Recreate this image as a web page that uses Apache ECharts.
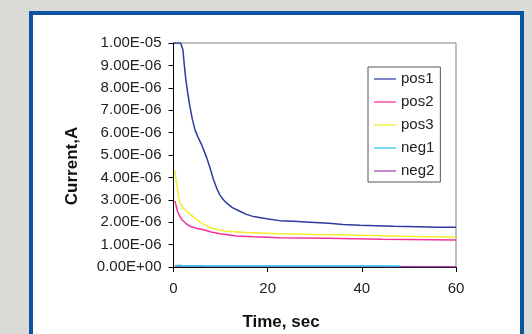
<!DOCTYPE html>
<html>
<head>
<meta charset="utf-8">
<script src="https://cdn.jsdelivr.net/npm/echarts@6/dist/echarts.min.js"></script>
<style>
html,body{margin:0;padding:0;background:#dcdad6;}
#c{width:532px;height:334px;}
</style>
</head>
<body>
<div id="c"></div>
<script>
// Data (current in units of 1e-6 A, time in seconds)
const pos1T = [0, 1.5, 2.0, 2.3, 2.6, 3.0, 3.5, 4.0, 4.6, 5.3, 6.0, 7.1, 7.8, 8.5, 9.2, 9.9, 10.6, 11.3, 12.5, 14.2, 15.5, 17.0, 19.8, 22.5, 25.5, 29, 33, 36, 39.6, 46.7, 52, 55.9, 60];
const pos1V = [10, 10, 9.7, 9.0, 8.4, 7.8, 7.15, 6.6, 6.1, 5.75, 5.45, 4.85, 4.4, 3.9, 3.5, 3.2, 3.0, 2.85, 2.65, 2.48, 2.35, 2.25, 2.15, 2.07, 2.04, 2.0, 1.95, 1.9, 1.86, 1.82, 1.8, 1.78, 1.77];
const pos2T = [0.3, 0.6, 0.85, 1.3, 1.8, 2.6, 3.5, 5.0, 6.4, 8.0, 9.9, 13.4, 17, 22.5, 32.4, 44.4, 60];
const pos2V = [2.95, 2.7, 2.48, 2.28, 2.11, 1.95, 1.82, 1.72, 1.66, 1.56, 1.48, 1.38, 1.35, 1.31, 1.28, 1.24, 1.21];
const pos3T = [0.3, 0.55, 0.85, 1.1, 1.4, 2.0, 2.8, 4.0, 5.0, 6.4, 7.8, 9.5, 11.3, 15.6, 22.5, 30, 39.6, 48.8, 60];
const pos3V = [4.33, 3.85, 3.45, 3.1, 2.85, 2.65, 2.48, 2.28, 2.1, 1.9, 1.75, 1.66, 1.6, 1.54, 1.48, 1.45, 1.42, 1.37, 1.33];
const neg1T = [0.3, 0.6, 1.2, 2, 10, 20, 30, 40, 48];
const neg1V = [0.06, 0.1, 0.08, 0.04, 0.04, 0.04, 0.04, 0.04, 0.04];
const neg2T = [0.3, 6, 6.5, 20, 40, 60];
const neg2V = [0.05, 0.05, 0.02, 0.02, 0.02, 0.01];
const seriesNames = ['pos1', 'pos2', 'pos3', 'neg1', 'neg2'];
const seriesColors = ['#2f3a9e', '#f0329a', '#f2ee2a', '#33c4f0', '#a04aa8'];
const legendColors = ['#7f86cc', '#f77ab8', '#f5f27a', '#7fd8f5', '#c08ac6'];
const xTicks = [0, 20, 40, 60];
const yMax = 1e-5, yStep = 1e-6;

function pairs(t, v) { return t.map((x, i) => [x, v[i] * 1e-6]); }
const allT = [pos1T, pos2T, pos3T, neg1T, neg2T];
const allV = [pos1V, pos2V, pos3V, neg1V, neg2V];

function fmtE(val) {
  let s = Number(val).toExponential(2);
  let [m, e] = s.split('e');
  let sign = e[0] === '-' ? '-' : '+';
  let n = Math.abs(parseInt(e, 10));
  return m + 'E' + sign + (n < 10 ? '0' + n : '' + n);
}

const chart = echarts.init(document.getElementById('c'), null, {renderer: 'canvas'});
const font = 'Liberation Sans, Arial, sans-serif';
chart.setOption({
  animation: false,
  backgroundColor: '#dcdad6',
  graphic: [
    {type: 'rect', z: -10, shape: {x: 31, y: 13, width: 491, height: 340},
     style: {fill: '#ffffff', stroke: '#0d54a0', lineWidth: 4}},
    {type: 'text', z: 10, x: 281, y: 322,
     style: {text: 'Time, sec', font: 'bold 17px ' + font, fill: '#111', textAlign: 'center', textVerticalAlign: 'middle'}},
    {type: 'text', z: 10, x: 72, y: 166, rotation: Math.PI / 2,
     style: {text: 'Current,A', font: 'bold 17px ' + font, fill: '#111', textAlign: 'center', textVerticalAlign: 'middle'}}
  ],
  grid: {left: 173.5, right: 76, top: 43, bottom: 67, show: true, borderColor: '#808080', borderWidth: 1, backgroundColor: '#ffffff'},
  legend: {
    orient: 'vertical', left: 368, top: 67,
    padding: [4, 6, 3, 6], itemGap: 7, itemWidth: 22, itemHeight: 2,
    icon: 'rect',
    borderColor: '#555', borderWidth: 1, backgroundColor: '#fff',
    textStyle: {fontFamily: font, fontSize: 15, color: '#222', lineHeight: 16},
    data: seriesNames.map((n, i) => ({name: n, itemStyle: {color: legendColors[i]}}))
  },
  xAxis: {
    type: 'value', min: 0, max: 60, interval: 20,
    axisLine: {show: true, lineStyle: {color: '#000', width: 1}},
    axisTick: {show: true, length: 5, lineStyle: {color: '#000'}},
    splitLine: {show: false},
    axisLabel: {fontFamily: font, fontSize: 15, color: '#222', margin: 14,
      formatter: v => xTicks.includes(v) ? String(v) : ''}
  },
  yAxis: {
    type: 'value', min: 0, max: yMax, interval: yStep,
    axisLine: {show: true, lineStyle: {color: '#000', width: 1}},
    axisTick: {show: true, length: 5, lineStyle: {color: '#000'}},
    splitLine: {show: false},
    axisLabel: {fontFamily: font, fontSize: 15, color: '#222', margin: 12, formatter: fmtE}
  },
  series: seriesNames.map((name, i) => ({
    name: name, type: 'line', symbol: 'none', clip: true,
    data: pairs(allT[i], allV[i]),
    lineStyle: {color: seriesColors[i], width: 1.5},
    itemStyle: {color: seriesColors[i]},
    z: i === 3 ? 4 : 2
  }))
});
</script>
</body>
</html>
